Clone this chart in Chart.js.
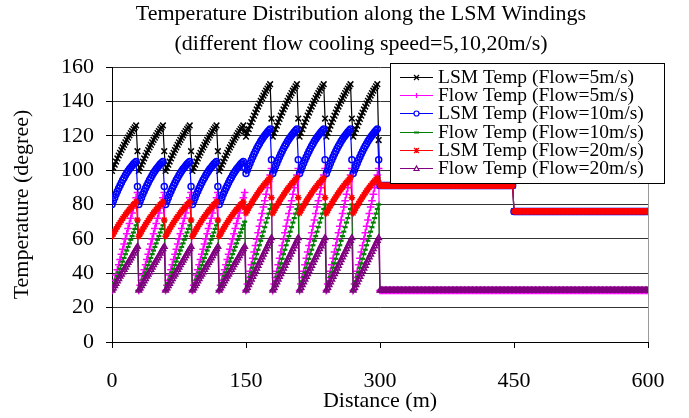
<!DOCTYPE html>
<html><head><meta charset="utf-8">
<script src="https://cdn.jsdelivr.net/npm/chart.js"></script>
<style>html,body{margin:0;padding:0;background:#fff;}canvas{display:block;}</style>
</head><body>
<canvas id="c" width="689" height="418"></canvas>
<script>
// ---------- text ----------
const chartTitle = ['Temperature Distribution along the LSM Windings', '(different flow cooling speed=5,10,20m/s)'];
const xAxisTitle = 'Distance (m)';
const yAxisTitle = 'Temperature (degree)';
const seriesNames = ['LSM Temp (Flow=5m/s)', 'Flow Temp (Flow=5m/s)', 'LSM Temp (Flow=10m/s)',
                     'Flow Temp (Flow=10m/s)', 'LSM Temp (Flow=20m/s)', 'Flow Temp (Flow=20m/s)'];
const xTicks = [0, 150, 300, 450, 600];
const yTicks = [0, 20, 40, 60, 80, 100, 120, 140, 160];

// ---------- sampling grid (m) ----------
const segmentStarts = [0, 30, 60, 90, 120, 150, 180, 210, 240, 270];
const riseOffsets = [0, 1.5, 3, 4.5, 6, 7.5, 9, 10.5, 12, 13.5, 15, 16.5, 18, 19.5, 21, 22.5, 24, 25.5, 27];
const dropOffset = 28.5;
const hotHalfStart = 150;          // segments from here use the "B" profiles
const plateauStart = 300, plateauStep = 1.5, plateauBreak = 450, plateauEnd = 600;

// ---------- LSM temperatures, one segment profile each half ----------
const lsm5RiseA  = [99.5,101.4,103.2,105.0,106.8,108.5,110.1,111.7,113.2,114.7,116.2,117.6,118.9,120.2,121.5,122.7,123.9,124.9,126.0];
const lsm5RiseB  = [119.5,121.7,123.8,125.9,127.9,129.8,131.7,133.5,135.3,137.0,138.7,140.3,141.9,143.4,144.8,146.2,147.5,148.8,150.0];
const lsm5Drop   = [111, 111, 111, 111, 122.5, 130, 130, 130, 130, 117.5];

const lsm10RiseA = [80,82.1,84.0,85.9,87.7,89.5,91.1,92.7,94.2,95.6,97.0,98.3,99.5,100.6,101.6,102.6,103.5,104.3,105.0];
const lsm10RiseB = [98,100.1,102.1,104.0,105.9,107.7,109.4,111.0,112.6,114.0,115.4,116.8,118.0,119.1,120.2,121.2,122.2,123.1,124.0];
const lsm10Drop  = [90.5, 90.5, 90.5, 90.5, 101.5, 106, 106, 106, 106, 106];

const lsm20RiseA = [61.5,62.9,64.3,65.7,67.0,68.3,69.5,70.7,71.9,73.0,74.1,75.1,76.2,77.1,78.1,79.0,79.9,80.7,81.5];
const lsm20RiseB = [75,76.5,77.9,79.3,80.6,81.9,83.2,84.4,85.6,86.8,87.9,89.0,90.0,91.0,92.0,92.9,93.8,94.7,95.5];
const lsm20Drop  = [71, 71, 71, 71, 78, 84, 84, 84, 84, 93];

const lsmPlateau = [91, 83.5, 76];   // before 450, at the step, after 450

// ---------- flow temperatures ----------
const flow5RiseA  = [30,33,36,39,42,45,48,51,54,57,60,63,66,69,72,75,78,81,84,87];
const flow5RiseB  = [30,33.7,37.5,41.2,44.9,48.7,52.4,56.1,59.8,63.6,67.3,71.0,74.8,78.5,82.2,85.9,89.7,93.4,97.1,101];
const flow10RiseA = [30,32.1,34.2,36.3,38.4,40.5,42.6,44.7,46.8,48.9,51.1,53.2,55.3,57.4,59.5,61.6,63.7,65.8,67.9,70];
const flow10RiseB = [30,32.6,35.3,37.9,40.5,43.2,45.8,48.4,51.1,53.7,56.3,58.9,61.6,64.2,66.8,69.5,72.1,74.7,77.4,80];
const flow20RiseA = [30,31.3,32.7,34.0,35.4,36.7,38.1,39.4,40.7,42.1,43.4,44.8,46.1,47.5,48.8,50.1,51.5,52.8,54.2,55.5];
const flow20RiseB = [30,31.6,33.2,34.8,36.4,38.0,39.6,41.2,42.8,44.4,46.1,47.7,49.3,50.9,52.5,54.1,55.7,57.3,58.9,60.5];
const flowPlateau = 30;

// ---------- build tables ----------
const distance = [];
segmentStarts.forEach(s => { riseOffsets.forEach(o => distance.push(s + o)); distance.push(s + dropOffset); });
const plateauX = [];
for (let d = plateauStart; d <= plateauEnd + 0.01; d += plateauStep) plateauX.push(d);
plateauX.forEach(d => distance.push(d));

function buildLsm(riseA, riseB, drops) {
  const ys = [];
  segmentStarts.forEach((s, k) => { (s < hotHalfStart ? riseA : riseB).forEach(v => ys.push(v)); ys.push(drops[k]); });
  plateauX.forEach(d => ys.push(d < plateauBreak - 1 ? lsmPlateau[0] : (d < plateauBreak ? lsmPlateau[1] : lsmPlateau[2])));
  return ys;
}
function buildFlow(riseA, riseB) {
  const ys = [];
  segmentStarts.forEach(s => (s < hotHalfStart ? riseA : riseB).forEach(v => ys.push(v)));
  plateauX.forEach(() => ys.push(flowPlateau));
  return ys;
}
const lsm5  = buildLsm(lsm5RiseA, lsm5RiseB, lsm5Drop);
const flow5 = buildFlow(flow5RiseA, flow5RiseB);
const lsm10 = buildLsm(lsm10RiseA, lsm10RiseB, lsm10Drop);
const flow10 = buildFlow(flow10RiseA, flow10RiseB);
const lsm20 = buildLsm(lsm20RiseA, lsm20RiseB, lsm20Drop);
const flow20 = buildFlow(flow20RiseA, flow20RiseB);

const seriesValues = [lsm5, flow5, lsm10, flow10, lsm20, flow20];
const seriesColors = ['#000000', '#FF00FF', '#0000FF', '#008000', '#FF0000', '#800080'];
const seriesMarkers = ['crossRot', 'cross', 'circle', 'line', 'star', 'triangle'];
const markerRadius = [4, 3.8, 3, 2.5, 3.3, 3.2];

const FONT = "'Liberation Serif', 'Times New Roman', serif";

const datasets = seriesValues.map((ys, i) => ({
  label: seriesNames[i],
  data: distance.map((x, j) => ({ x: x, y: ys[j] })),
  borderColor: seriesColors[i],
  backgroundColor: seriesColors[i],
  borderWidth: 1.2,
  pointStyle: seriesMarkers[i],
  pointRadius: markerRadius[i],
  pointBorderColor: seriesColors[i],
  pointBackgroundColor: (seriesMarkers[i] === 'circle' || seriesMarkers[i] === 'triangle') ? 'rgba(0,0,0,0)' : seriesColors[i],
  pointBorderWidth: seriesMarkers[i] === 'line' ? 2.2 : 1.5,
  tension: 0,
  order: 5 - i
}));

function drawMarker(ctx, style, x, y, r, color) {
  ctx.save();
  ctx.strokeStyle = color; ctx.fillStyle = color; ctx.lineWidth = 1.2;
  ctx.beginPath();
  if (style === 'crossRot' || style === 'star') {
    ctx.moveTo(x - r, y - r); ctx.lineTo(x + r, y + r); ctx.moveTo(x - r, y + r); ctx.lineTo(x + r, y - r);
  }
  if (style === 'cross' || style === 'star') {
    ctx.moveTo(x - r, y); ctx.lineTo(x + r, y); ctx.moveTo(x, y - r); ctx.lineTo(x, y + r);
  }
  if (style === 'line') {
    ctx.lineWidth = 2; ctx.moveTo(x - r, y); ctx.lineTo(x + r, y);
  }
  if (style === 'circle') {
    ctx.arc(x, y, r, 0, Math.PI * 2); ctx.fillStyle = '#fff'; ctx.fill();
  }
  if (style === 'triangle') {
    ctx.moveTo(x, y - r); ctx.lineTo(x + r, y + r * 0.8); ctx.lineTo(x - r, y + r * 0.8); ctx.closePath();
    ctx.fillStyle = '#fff'; ctx.fill();
  }
  ctx.stroke();
  ctx.restore();
}

const decorPlugin = {
  id: 'decor',
  afterDraw(chart) {
    const ctx = chart.ctx;
    ctx.save();
    // title
    ctx.fillStyle = '#000';
    ctx.font = '22px ' + FONT;
    ctx.textAlign = 'center';
    ctx.textBaseline = 'middle';
    ctx.fillText(chartTitle[0], 361, 14);
    ctx.fillText(chartTitle[1], 361, 44);
    // legend
    const bx = 390.5, by = 63.5, bw = 274, bh = 120;
    ctx.fillStyle = '#fff';
    ctx.fillRect(bx, by, bw, bh);
    ctx.strokeStyle = '#000'; ctx.lineWidth = 1;
    ctx.strokeRect(bx, by, bw, bh);
    ctx.font = '19.5px ' + FONT;
    ctx.textAlign = 'left';
    seriesNames.forEach((name, i) => {
      const y = 76.7 + i * 18.3;
      ctx.strokeStyle = seriesColors[i]; ctx.lineWidth = 1;
      ctx.beginPath(); ctx.moveTo(400, Math.round(y) + 0.5); ctx.lineTo(433, Math.round(y) + 0.5); ctx.stroke();
      drawMarker(ctx, seriesMarkers[i], 416.5, Math.round(y) + 0.5, 2.5, seriesColors[i]);
      ctx.fillStyle = '#000';
      ctx.fillText(name, 438, y + 1);
    });
    ctx.restore();
  }
};

new Chart(document.getElementById('c'), {
  type: 'line',
  data: { datasets: datasets },
  options: {
    responsive: false,
    animation: false,
    devicePixelRatio: 1,
    layout: { padding: { top: 67, right: 41, left: 0, bottom: 0 } },
    plugins: { legend: { display: false }, title: { display: false }, tooltip: { enabled: false } },
    scales: {
      x: {
        type: 'linear', min: 0, max: 600,
        afterBuildTicks: s => { s.ticks = xTicks.map(v => ({ value: v })); },
        ticks: { font: { family: FONT, size: 22 }, color: '#000', padding: 20, maxRotation: 0, autoSkip: false },
        grid: {
          drawOnChartArea: true, drawTicks: true, tickLength: 6, tickColor: '#000',
          color: c => (c.tick && c.tick.value === 600) ? '#999' : 'rgba(0,0,0,0)'
        },
        border: { display: true, color: '#000', width: 1 },
        title: { display: true, text: xAxisTitle, font: { family: FONT, size: 22 }, color: '#000', padding: { top: 0, bottom: 4 } },
        afterFit: s => { s.height = 76; }
      },
      y: {
        min: 0, max: 160,
        afterBuildTicks: s => { s.ticks = yTicks.map(v => ({ value: v })); },
        ticks: { font: { family: FONT, size: 22 }, color: '#000', padding: 12 },
        grid: { color: '#333', tickColor: '#000', tickLength: 6, drawTicks: true },
        border: { display: true, color: '#000', width: 1 },
        title: { display: true, text: yAxisTitle, font: { family: FONT, size: 22 }, color: '#000', padding: { top: 9, bottom: 0 } },
        afterFit: s => { s.width = 112; }
      }
    }
  },
  plugins: [decorPlugin]
});
</script>
</body></html>
